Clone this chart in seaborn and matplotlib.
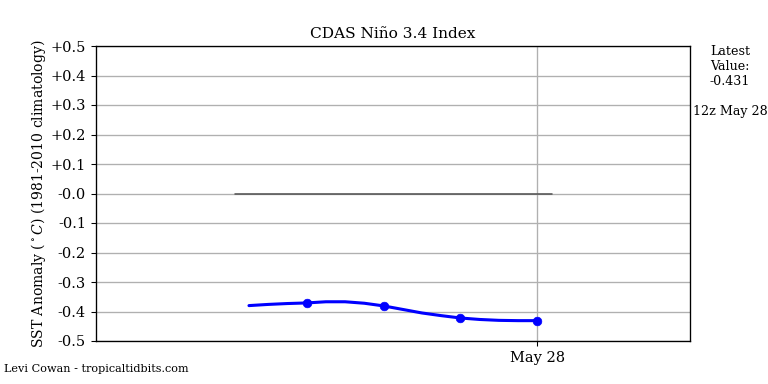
import pandas as pd
import numpy as np
import matplotlib
matplotlib.use("Agg")
import matplotlib.pyplot as plt
import matplotlib.dates as mdates
import seaborn as sns

# 6-hourly index values
times = pd.date_range("2024-05-24 18:00", "2024-05-28 12:00", freq="6h")
values = [-0.380, -0.376, -0.373, -0.371, -0.367, -0.367, -0.372, -0.381,
          -0.393, -0.405, -0.414, -0.422, -0.427, -0.430, -0.431, -0.431]

# daily 12z markers
dot_times = pd.to_datetime(["2024-05-25 12:00", "2024-05-26 12:00",
                            "2024-05-27 12:00", "2024-05-28 12:00"])
dot_values = [-0.371, -0.381, -0.422, -0.431]

ytick_vals = [-0.5, -0.4, -0.3, -0.2, -0.1, 0.0, 0.1, 0.2, 0.3, 0.4, 0.5]
ytick_labels = ["-0.5", "-0.4", "-0.3", "-0.2", "-0.1", "-0.0",
                "+0.1", "+0.2", "+0.3", "+0.4", "+0.5"]

line_df = pd.DataFrame({"time": times, "value": values})
dot_df = pd.DataFrame({"time": dot_times, "value": dot_values})

sns.set_style("ticks")
plt.rcParams["font.family"] = ["DejaVu Serif"]
plt.rcParams["mathtext.fontset"] = "dejavuserif"
plt.rcParams["text.color"] = "black"
plt.rcParams["axes.labelcolor"] = "black"
plt.rcParams["xtick.color"] = "black"
plt.rcParams["ytick.color"] = "black"

fig = plt.figure(figsize=(8, 4), dpi=96)
ax = fig.add_axes([96 / 768, 1 - 341 / 384, 594 / 768, 295 / 384])

ax.axhline(0, xmin=0.234, xmax=0.768, color="#555555", lw=1.2, zorder=2)
sns.lineplot(data=line_df, x="time", y="value", color="blue", lw=2.3, ax=ax, zorder=3)
sns.scatterplot(data=dot_df, x="time", y="value", color="blue", s=42,
                edgecolor="blue", ax=ax, zorder=4)

ax.set_xlim(pd.Timestamp("2024-05-22 18:15"), pd.Timestamp("2024-05-30 11:40"))
ax.set_ylim(-0.5, 0.5)
ax.set_yticks(ytick_vals)
ax.set_yticklabels(ytick_labels)
ax.set_xticks([pd.Timestamp("2024-05-28 12:00")])
ax.set_xticklabels(["May 28"])
ax.tick_params(labelsize=11, length=4, color="black")
ax.grid(True, color="#b0b0b0", lw=1)
ax.set_axisbelow(True)
for s in ax.spines.values():
    s.set_color("black")
    s.set_linewidth(1)

ax.set_xlabel("")
ax.set_ylabel(r"SST Anomaly ($^\circ C$) (1981-2010 climatology)", fontsize=10.5,
              labelpad=2)
ax.set_title("CDAS Niño 3.4 Index", fontsize=11.5)

fig.text(730 / 768, 1 - 45 / 384, "Latest\nValue:\n-0.431", ha="center", va="top",
         fontsize=9.5, linespacing=1.2)
fig.text(730 / 768, 1 - 111 / 384, "12z May 28", ha="center", va="center", fontsize=9.5)
fig.text(4 / 768, 1 - 369 / 384, "Levi Cowan - tropicaltidbits.com", ha="left",
         va="center", fontsize=8.4)

fig.savefig("out.png", dpi=96)
